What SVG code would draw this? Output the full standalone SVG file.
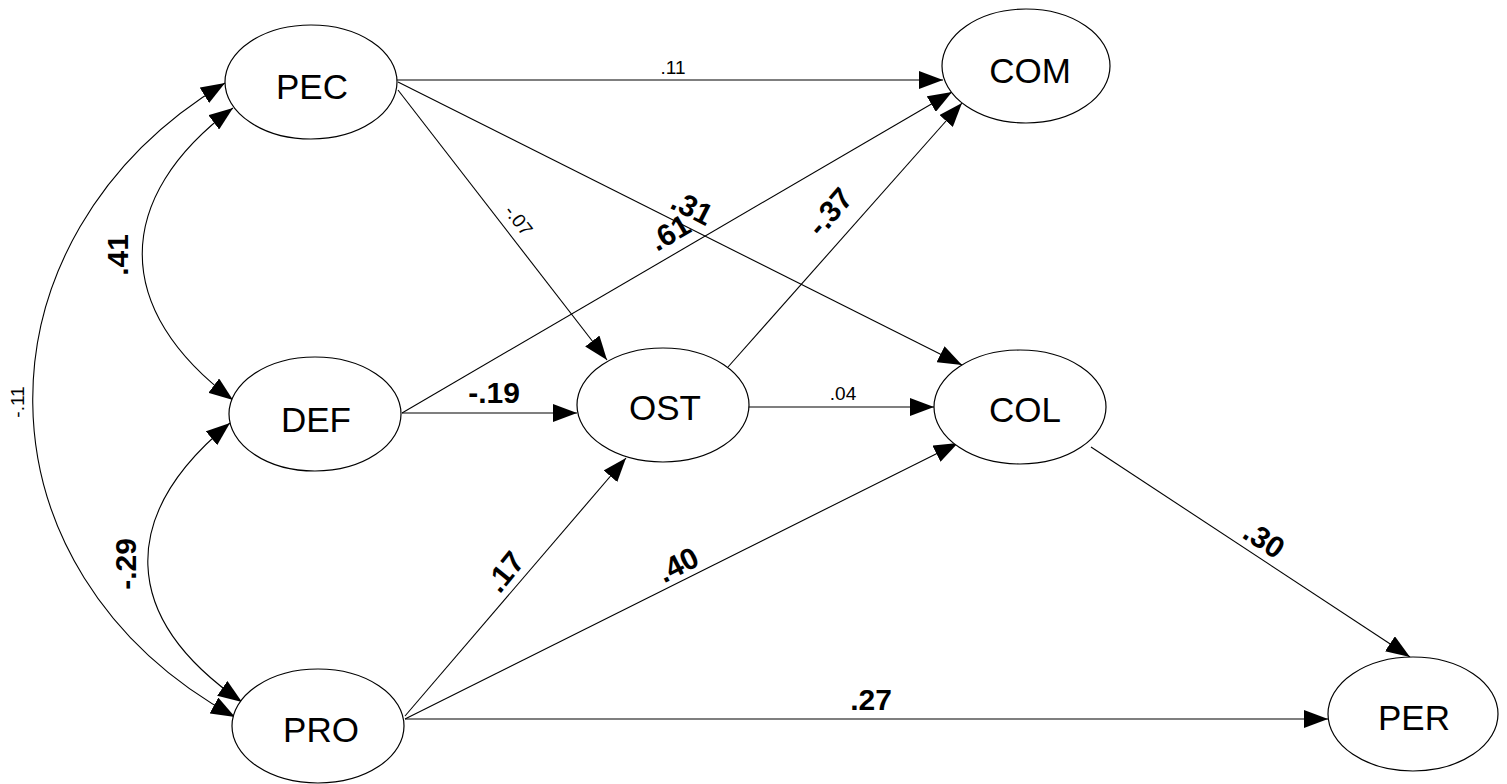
<svg xmlns="http://www.w3.org/2000/svg" width="1507" height="784" viewBox="0 0 1507 784">
  <defs>
    <marker id="ah" viewBox="0 0 24 18" refX="24" refY="9" markerWidth="24" markerHeight="18" markerUnits="userSpaceOnUse" orient="auto-start-reverse">
      <path d="M0,0 L24,9 L0,18 z" fill="#000"/>
    </marker>
    <style>
      .node ellipse { fill: #fff; stroke: #000; stroke-width: 1.2; }
      .node text { font-family: "Liberation Sans", Arial, sans-serif; font-size: 35px; text-anchor: middle; fill: #000; }
      .edge { fill: none; stroke: #000; stroke-width: 1.1; marker-end: url(#ah); }
      .cov { fill: none; stroke: #000; stroke-width: 1.1; marker-start: url(#ah); marker-end: url(#ah); }
      .lb { font-family: "Liberation Sans", Arial, sans-serif; font-size: 30px; font-weight: bold; text-anchor: middle; fill: #000; }
      .ls { font-family: "Liberation Sans", Arial, sans-serif; font-size: 19px; text-anchor: middle; fill: #000; }
    </style>
  </defs>
  <rect width="1507" height="784" fill="#fff"/>

  <!-- paths and covariances -->
  <g id="connectors">
    <path class="cov" d="M233,108 C112,198 112,310 233,400"/>
    <path class="cov" d="M230,423 C118,515 119,617 242,702"/>
    <path class="cov" d="M225,83 C-33,238 -33,570 235,717"/>

    <line class="edge" x1="397" y1="80" x2="943" y2="80"/>
    <line class="edge" x1="398" y1="82" x2="962" y2="365"/>
    <line class="edge" x1="398" y1="90" x2="607" y2="360"/>
    <line class="edge" x1="402" y1="413" x2="952" y2="92"/>
    <line class="edge" x1="402" y1="413" x2="577" y2="413"/>
    <line class="edge" x1="728" y1="367" x2="962" y2="103"/>
    <line class="edge" x1="748" y1="407" x2="934" y2="407"/>
    <line class="edge" x1="405" y1="716" x2="626" y2="458"/>
    <line class="edge" x1="405" y1="719" x2="958" y2="443"/>
    <line class="edge" x1="405" y1="719" x2="1328" y2="719"/>
    <line class="edge" x1="1091" y1="447" x2="1410" y2="657"/>
  </g>

  <!-- coefficient labels -->
  <g id="labels">
    <text class="ls" x="673" y="74">.11</text>
    <text class="ls" transform="translate(519,220) rotate(52)" y="7">-.07</text>
    <text class="lb" transform="translate(692,208) rotate(27)" y="10">.31</text>
    <text class="lb" transform="translate(670,233) rotate(-30)" y="10">.61</text>
    <text class="lb" transform="translate(830,212) rotate(-49)" y="10">-.37</text>
    <text class="lb" x="494" y="403">-.19</text>
    <text class="ls" x="843" y="400">.04</text>
    <text class="lb" transform="translate(505,572) rotate(-51)" y="10">.17</text>
    <text class="lb" transform="translate(678,565) rotate(-27)" y="10">.40</text>
    <text class="lb" x="871" y="710">.27</text>
    <text class="lb" transform="translate(1264,540) rotate(33)" y="10">.30</text>
    <text class="lb" transform="translate(118,255) rotate(-90)" y="10">.41</text>
    <text class="lb" transform="translate(126,564) rotate(-90)" y="10">-.29</text>
    <text class="ls" transform="translate(17,402) rotate(-90)" y="7">-.11</text>
  </g>

  <g id="PEC" class="node">
    <ellipse cx="311" cy="82" rx="86" ry="57"/>
    <text x="312" y="99">PEC</text>
  </g>
  <g id="DEF" class="node">
    <ellipse cx="315" cy="414" rx="86" ry="57"/>
    <text x="316" y="432">DEF</text>
  </g>
  <g id="PRO" class="node">
    <ellipse cx="318" cy="726" rx="86" ry="57"/>
    <text x="321" y="742">PRO</text>
  </g>
  <g id="OST" class="node">
    <ellipse cx="663" cy="405" rx="86" ry="57"/>
    <text x="665" y="420">OST</text>
  </g>
  <g id="COM" class="node">
    <ellipse cx="1026" cy="66" rx="84" ry="57"/>
    <text x="1030" y="83">COM</text>
  </g>
  <g id="COL" class="node">
    <ellipse cx="1020" cy="407" rx="86" ry="57"/>
    <text x="1025" y="422">COL</text>
  </g>
  <g id="PER" class="node">
    <ellipse cx="1413" cy="714" rx="85" ry="57"/>
    <text x="1414" y="730">PER</text>
  </g>
</svg>
